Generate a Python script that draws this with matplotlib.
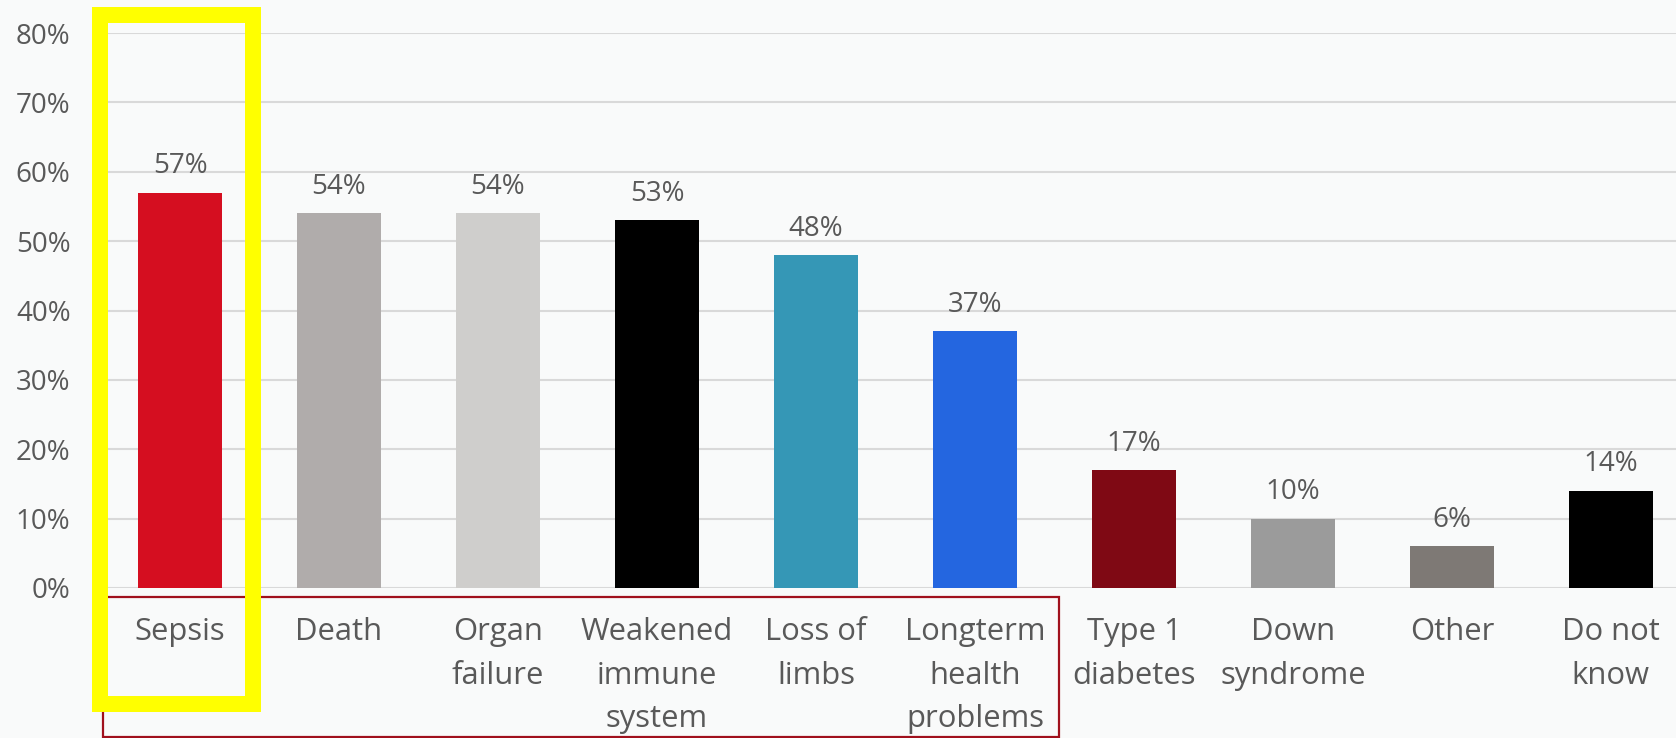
import numpy as np
import matplotlib.pyplot as plt
from matplotlib.patches import Rectangle

categories = ['Sepsis', 'Death', 'Organ\nfailure', 'Weakened\nimmune\nsystem', 'Loss of\nlimbs',
              'Longterm\nhealth\nproblems', 'Type 1\ndiabetes', 'Down\nsyndrome', 'Other', 'Do not\nknow']
values = [0.57, 0.54, 0.54, 0.53, 0.48, 0.37, 0.17, 0.10, 0.06, 0.14]
colors = ['#d50e20', '#b0acab', '#cfcecc', '#000000', '#3597b6',
          '#2466e0', '#7f0914', '#9b9b9b', '#7e7975', '#000000']
yticks = [0, 0.1, 0.2, 0.3, 0.4, 0.5, 0.6, 0.7, 0.8]

plt.rcParams['font.family'] = ['Open Sans', 'DejaVu Sans']
txt = '#595959'

W, H = 1676, 738
fig = plt.figure(figsize=(W / 100, H / 100), dpi=100)
fig.patch.set_facecolor('#f9fafa')

# axes placed in pixel terms of the reference
ax = fig.add_axes([108 / W, (H - 588) / H, (W - 108) / W, (588 - 33) / H])
ax.patch.set_alpha(0)

x = np.arange(len(categories))
ax.bar(x, values, width=0.53, color=colors, zorder=3)
for xi, v in zip(x, values):
    ax.annotate(f'{v * 100:.0f}%', (xi, v), xytext=(0, 9), textcoords='offset points',
                ha='center', va='bottom', fontsize=20, color=txt)

ax.set_ylim(0, 0.8)
ax.set_xlim(-0.453, 9.41)
ax.set_yticks(yticks)
ax.set_yticklabels([f'{t * 100:.0f}%' for t in yticks], fontsize=20, color=txt)
ax.set_xticks(x)
ax.set_xticklabels(categories, fontsize=22.3, color=txt, linespacing=1.58, va='top')
ax.tick_params(axis='both', length=0)
ax.tick_params(axis='x', pad=21)
ax.tick_params(axis='y', pad=27)
ax.grid(axis='y', color='#d9d9d9', linewidth=1.5, zorder=0)
for s in ax.spines.values():
    s.set_visible(False)

# highlight boxes
fig.patches.append(Rectangle((103 / W, 1 - 737 / H), (1059 - 103) / W, (737 - 597) / H,
                             transform=fig.transFigure, fill=False, edgecolor='#a0101c',
                             linewidth=1.6, zorder=5))
fig.patches.append(Rectangle((100 / W, 1 - 704 / H), (253 - 100) / W, (704 - 15) / H,
                             transform=fig.transFigure, fill=False, edgecolor='#ffff00',
                             linewidth=11.5, zorder=6))

fig.savefig('out.png', dpi=100, facecolor=fig.get_facecolor())
